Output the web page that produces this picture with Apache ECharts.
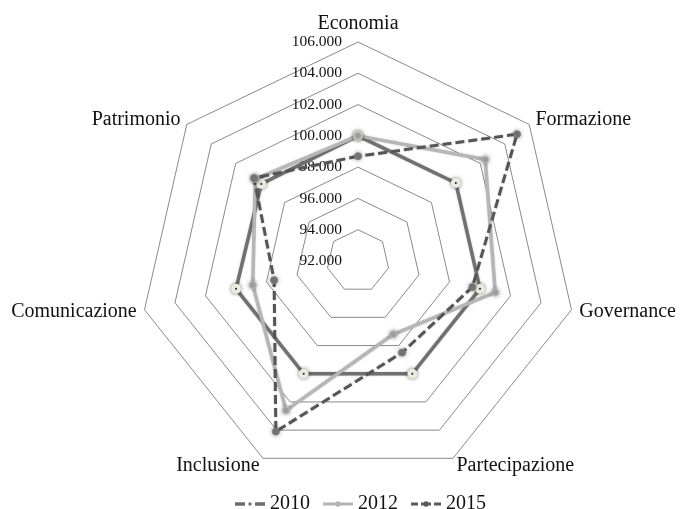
<!DOCTYPE html>
<html>
<head>
<meta charset="utf-8">
<title>Radar</title>
<script src="https://cdn.jsdelivr.net/npm/echarts@6/dist/echarts.min.js"></script>
<style>
  html, body { margin: 0; padding: 0; background: #fff; }
  #mypic { width: 680px; height: 509px; }
</style>
</head>
<body>
<div id="mypic"></div>
<script>
// dati (ordine orario a partire da Economia)
var categories = ['Economia', 'Formazione', 'Governance', 'Partecipazione', 'Inclusione', 'Comunicazione', 'Patrimonio'];
var v2010 = [100.0, 100.0, 100.0, 100.0, 100.0, 100.0, 99.9];
var v2012 = [100.0, 102.4, 101.0, 97.2, 102.6, 98.9, 100.4];
var v2015 = [98.7, 105.0, 99.5, 98.5, 104.1, 97.5, 100.5];
var axisMin = 92;
var axisMax = 106;

// echarts mette gli indicatori in senso antiorario: riordino
var order = [0, 6, 5, 4, 3, 2, 1];
function pick(arr) {
  return order.map(function (i) { return arr[i]; });
}

var font = 'Liberation Serif, Times New Roman, serif';

var indicator = pick(categories).map(function (name, k) {
  var ind = { name: name, min: axisMin, max: axisMax };
  if (k === 0) {
    // etichette solo sul primo asse
    ind.axisLabel = {
      show: true,
      color: '#111',
      fontFamily: font,
      fontSize: 15.5,
      margin: 16,
      formatter: function (v) { return v.toFixed(3); }
    };
  }
  return ind;
});

// icone legenda (linea + marker), box 30x12
var corners = 'M0 0h0.01v0.01h-0.01zM29.99 11.99h0.01v0.01h-0.01z';
var dot = function (cx, r) {
  return 'M' + (cx - r) + ' 6a' + r + ' ' + r + ' 0 1 1 ' + (2 * r) + ' 0a' + r + ' ' + r + ' 0 1 1 ' + (-2 * r) + ' 0z';
};
var icon2010 = 'path://' + corners + 'M0 4.3h10v3.4h-10zM20 4.3h10v3.4h-10z' + dot(15, 1.7);
var icon2012 = 'path://' + corners + 'M0 4.5h30v3h-30z' + dot(15, 2.7);
var icon2015 = 'path://' + corners + 'M0 4.5h7v3h-7zM10 4.5h10v3h-10zM23 4.5h7v3h-7z' + dot(15, 2.7);

var myChart = echarts.init(document.getElementById('mypic'));

var option = {
  backgroundColor: '#ffffff',
  animation: false,
  legend: {
    left: 230,
    top: 489,
    itemWidth: 30,
    itemHeight: 12,
    itemGap: 13,
    textStyle: { fontFamily: font, fontSize: 20, color: '#111' },
    data: [
      { name: '2010', icon: icon2010, itemStyle: { color: '#6e6e6e', borderWidth: 0, shadowBlur: 0 } },
      { name: '2012', icon: icon2012, itemStyle: { color: '#b4b4b4', borderWidth: 0, shadowBlur: 0 } },
      { name: '2015', icon: icon2015, itemStyle: { color: '#5a5a5a', borderWidth: 0, shadowBlur: 0 } }
    ]
  },
  radar: {
    center: [358, 261],
    radius: 219,
    shape: 'polygon',
    splitNumber: 7,
    startAngle: 90,
    nameGap: 8,
    axisName: { color: '#111', fontFamily: font, fontSize: 20 },
    axisLine: { show: false },
    axisTick: { show: false },
    splitArea: { show: false },
    splitLine: { lineStyle: { color: '#8a8a8a', width: 1 } },
    indicator: indicator
  },
  series: [{
    type: 'radar',
    data: [
      {
        name: '2010',
        value: pick(v2010),
        symbol: 'circle',
        symbolSize: 6,
        lineStyle: { color: '#707070', width: 3.5, shadowColor: 'rgba(0,0,0,0.25)', shadowBlur: 2 },
        itemStyle: { color: '#333', borderColor: '#ecebdf', borderWidth: 4, shadowColor: 'rgba(0,0,0,0.45)', shadowBlur: 4 }
      },
      {
        name: '2012',
        value: pick(v2012),
        symbol: 'circle',
        symbolSize: 7,
        lineStyle: { color: '#b6b6b6', width: 3.5, shadowColor: 'rgba(0,0,0,0.2)', shadowBlur: 2 },
        itemStyle: { color: '#a9a9a9', borderColor: '#bdbdbd', borderWidth: 1, shadowColor: 'rgba(0,0,0,0.35)', shadowBlur: 4 }
      },
      {
        name: '2015',
        value: pick(v2015),
        symbol: 'circle',
        symbolSize: 7,
        lineStyle: { color: '#555555', width: 3, type: [9, 4], shadowColor: 'rgba(0,0,0,0.2)', shadowBlur: 2 },
        itemStyle: { color: '#7a7a7a', borderColor: '#808080', borderWidth: 1, shadowColor: 'rgba(0,0,0,0.35)', shadowBlur: 4 }
      }
    ]
  }]
};

myChart.setOption(option);
</script>
</body>
</html>
